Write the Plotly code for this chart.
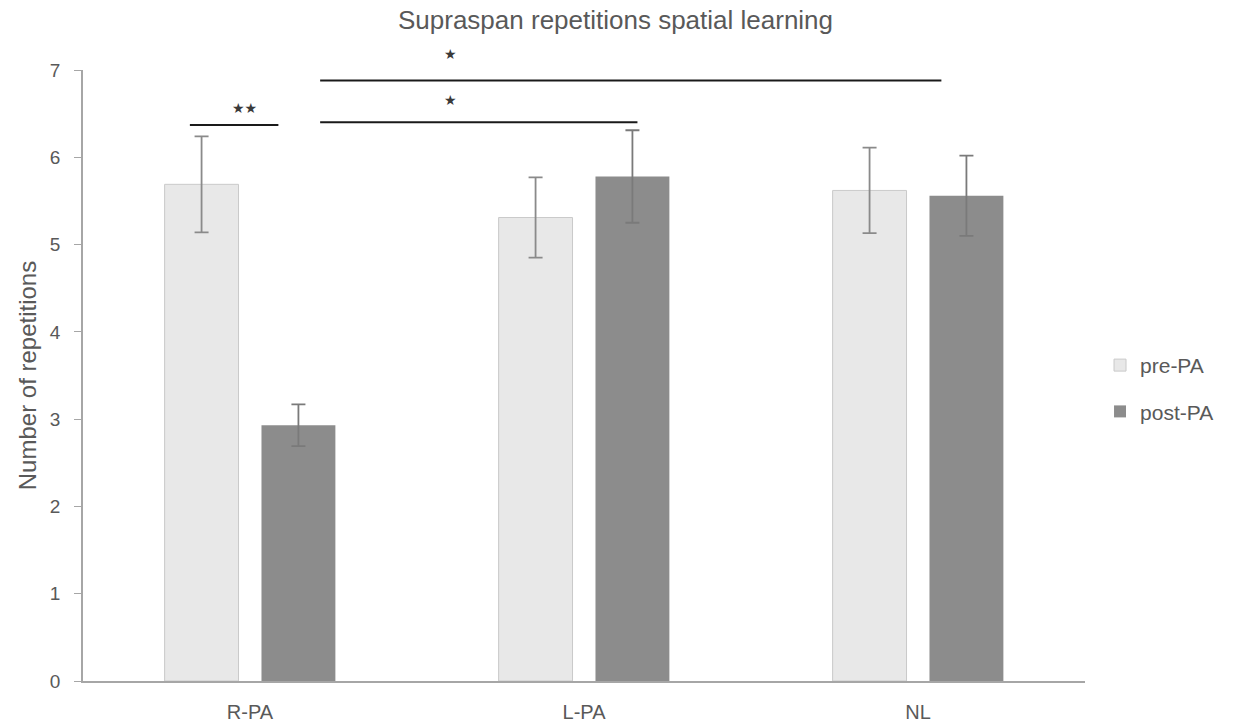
import plotly.graph_objects as go

# Mean supraspan repetitions per group, before and after prism adaptation
groups = ["R-PA", "L-PA", "NL"]
pre_pa = [5.69, 5.31, 5.62]
post_pa = [2.93, 5.78, 5.56]
pre_pa_err = [0.55, 0.46, 0.49]
post_pa_err = [0.24, 0.53, 0.46]

# Significance brackets: (x0, x1, y, label, label_x, label offset in px)
brackets = [
    (-0.18, 0.085, 6.37, "★★", -0.015, 17),
    (0.21, 1.16, 6.40, "★", 0.60, 22),
    (0.21, 2.07, 6.88, "★", 0.60, 26),
]

FONT = "Liberation Sans, Arial, sans-serif"
TEXT_GRAY = "#595959"

fig = go.Figure()
fig.add_trace(go.Bar(
    name="pre-PA", x=groups, y=pre_pa,
    marker=dict(color="#e8e8e8", line=dict(color="#cacaca", width=1)),
    error_y=dict(type="data", array=pre_pa_err, visible=True,
                 color="#8a8a8a", thickness=1.8, width=7),
    legendgroup="pre",
))
fig.add_trace(go.Bar(
    name="post-PA", x=groups, y=post_pa,
    marker=dict(color="#8c8c8c", line=dict(color="#8c8c8c", width=0)),
    error_y=dict(type="data", array=post_pa_err, visible=True,
                 color="#7a7a7a", thickness=1.8, width=7),
    legendgroup="post",
))

for x0, x1, y, label, lx, dy in brackets:
    fig.add_shape(type="line", xref="x", yref="y", x0=x0, x1=x1, y0=y, y1=y,
                  line=dict(color="#1a1a1a", width=2))
    fig.add_annotation(x=lx, y=y, xref="x", yref="y", text=label,
                       showarrow=False, yanchor="middle", yshift=dy,
                       font=dict(family="DejaVu Sans", size=14, color="#3a3a3a"))

fig.update_layout(
    width=1246, height=722,
    margin=dict(l=83, r=161, t=70, b=41, autoexpand=False),
    paper_bgcolor="white", plot_bgcolor="white",
    barmode="group", bargap=0.42, bargroupgap=0.237,
    title=dict(text="Supraspan repetitions spatial learning",
               x=0.494, xanchor="center", y=0.973, yanchor="middle",
               font=dict(family=FONT, size=26, color=TEXT_GRAY)),
    font=dict(family=FONT, size=20, color=TEXT_GRAY),
    legend=dict(x=1.015, y=0.55, xanchor="left", yanchor="top",
                traceorder="grouped", tracegroupgap=16,
                font=dict(family=FONT, size=21, color=TEXT_GRAY),
                itemwidth=30),
    showlegend=True,
)
fig.update_yaxes(
    range=[0, 7], dtick=1, showgrid=False, zeroline=False, automargin=False,
    showline=True, linecolor="#a6a6a6", linewidth=1.5,
    ticks="outside", ticklen=7, tickcolor="#a6a6a6",
    ticklabelstandoff=10,
    title=dict(text="Number of repetitions", standoff=6,
               font=dict(family=FONT, size=24, color=TEXT_GRAY)),
    tickfont=dict(family=FONT, size=19, color=TEXT_GRAY),
)
fig.update_xaxes(
    showgrid=False, showline=True, linecolor="#a6a6a6", linewidth=1.5,
    automargin=False, ticks="", ticklabelstandoff=12,
    tickfont=dict(family=FONT, size=20, color=TEXT_GRAY),
)

fig.write_html("out.html")
